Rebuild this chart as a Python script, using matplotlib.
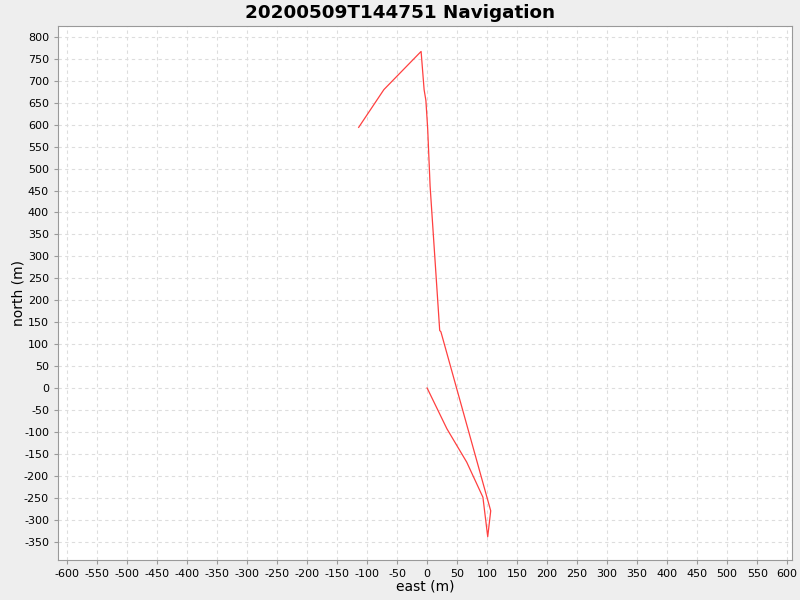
import numpy as np
import matplotlib
matplotlib.use('Agg')
import matplotlib.pyplot as plt
from matplotlib.ticker import MultipleLocator

plt.rcParams['axes.unicode_minus'] = False

# track, east / north in metres
east = [0, 33, 66, 93, 101, 106, 23, 21, 5, 1, -2, -5, -10, -72, -114]
north = [0, -93, -169, -249, -339, -280, 128, 131, 460, 590, 655, 680, 767, 680, 594]

title = '20200509T144751 Navigation'

fig = plt.figure(figsize=(8, 6), dpi=100)
fig.patch.set_facecolor('#EEEEEE')
ax = fig.add_axes([0.0725, 0.0667, 0.9175, 0.89])
ax.set_facecolor('white')

ax.plot(east, north, color='#FF4040', lw=0.9)

ax.set_xlim(-615, 608)
ax.set_ylim(-392, 825)
ax.xaxis.set_major_locator(MultipleLocator(50))
ax.yaxis.set_major_locator(MultipleLocator(50))
ax.grid(True, color='#DDDDDD', linestyle=(0, (3, 3)), lw=0.8)
ax.set_axisbelow(True)

for s in ax.spines.values():
    s.set_color('#999999')
    s.set_linewidth(0.8)
ax.tick_params(colors='#999999', labelcolor='black', labelsize=8, length=3, width=0.8)

ax.set_xlabel('east (m)', fontsize=10, labelpad=0)
ax.set_ylabel('north (m)', fontsize=10, labelpad=-1)
fig.suptitle(title, fontsize=13.2, fontweight='bold', y=0.993)

plt.savefig('out.png', dpi=100, facecolor=fig.get_facecolor())
